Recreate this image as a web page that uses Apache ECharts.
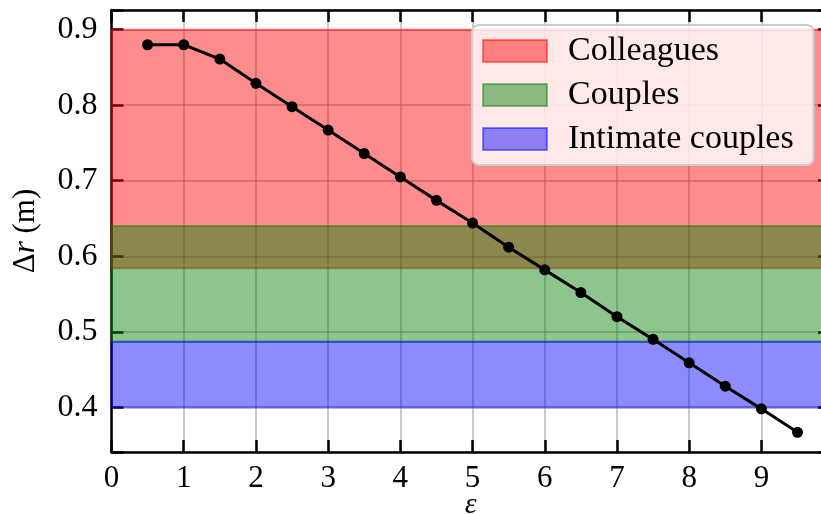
<!DOCTYPE html>
<html>
<head>
<meta charset="utf-8">
<script src="https://cdn.jsdelivr.net/npm/echarts@6/dist/echarts.min.js"></script>
<style>
html,body{margin:0;padding:0;background:#fff;}
#chart{width:821px;height:514px;}
</style>
</head>
<body>
<div id="chart"></div>
<script>
// ---- data ----
var epsValues = [0.5, 1, 1.5, 2, 2.5, 3, 3.5, 4, 4.5, 5, 5.5, 6, 6.5, 7, 7.5, 8, 8.5, 9, 9.5];
var deltaR = [0.880, 0.880, 0.861, 0.829, 0.798, 0.767, 0.736, 0.705, 0.674, 0.644, 0.612, 0.582, 0.552, 0.520, 0.490, 0.459, 0.428, 0.398, 0.367];
var bandNames = ['Colleagues', 'Couples', 'Intimate couples'];
var bandLow = [0.584, 0.487, 0.400];
var bandHigh = [0.900, 0.640, 0.487];
var xTicks = [0, 1, 2, 3, 4, 5, 6, 7, 8, 9];
var yTicks = [0.4, 0.5, 0.6, 0.7, 0.8, 0.9];

// ---- styles ----
var FONT = '"Liberation Serif", "DejaVu Serif", serif';
var fills = ['rgba(255,0,0,0.45)', 'rgba(0,128,0,0.45)', 'rgba(0,0,255,0.45)'];

var lineData = epsValues.map(function (x, i) { return [x, deltaR[i]]; });

function isTick(v, list) {
  for (var i = 0; i < list.length; i++) if (Math.abs(v - list[i]) < 1e-6) return true;
  return false;
}

var chart = echarts.init(document.getElementById('chart'), null, {renderer: 'canvas'});

var xBase = {
  type: 'value', min: 0, max: 9.95, interval: 1,
  axisLine: {show: true, onZero: false, lineStyle: {color: '#000', width: 2.5}},
  axisTick: {show: true, inside: true, length: 12, lineStyle: {color: '#000', width: 2.5}},
  splitLine: {show: false}
};
var yBase = {
  type: 'value', min: 0.3409, max: 0.926, minInterval: 0.1, maxInterval: 0.1,
  axisLine: {show: true, onZero: false, lineStyle: {color: '#000', width: 2.5}},
  axisTick: {show: true, inside: true, length: 12, lineStyle: {color: '#000', width: 2.5}},
  splitLine: {show: false}
};

var series = bandNames.map(function (name, i) {
  return {
    name: name,
    type: 'line',
    data: [],
    z: 1,
    markArea: {
      silent: true,
      itemStyle: {color: fills[i], borderColor: fills[i], borderWidth: 2},
      data: [[{yAxis: bandLow[i], xAxis: 0}, {yAxis: bandHigh[i], xAxis: 9.95}]]
    }
  };
});
series.push({
  name: 'data',
  type: 'line',
  data: lineData,
  z: 5,
  symbol: 'circle',
  symbolSize: 11,
  lineStyle: {color: '#000', width: 3},
  itemStyle: {color: '#000'},
  animation: false
});

var option = {
  animation: false,
  backgroundColor: '#fff',
  textStyle: {fontFamily: FONT},
  grid: {left: 111.5, top: 10, width: 718.5, height: 442, containLabel: false, outerBoundsMode: 'none'},
  legend: {
    orient: 'vertical',
    left: 472, top: 25,
    padding: [9, 20, 9, 10],
    itemWidth: 64, itemHeight: 22, itemGap: 10,
    backgroundColor: 'rgba(255,255,255,0.8)',
    borderColor: '#cccccc', borderWidth: 2, borderRadius: 7,
    textStyle: {fontFamily: FONT, fontSize: 34, color: '#000', padding: [0, 0, 0, 16]},
    data: bandNames.map(function (n, i) {
      return {name: n, icon: 'rect', itemStyle: {color: fills[i], borderColor: fills[i], borderWidth: 2}};
    })
  },
  xAxis: [
    Object.assign({}, xBase, {
      position: 'bottom',
      name: 'ε', nameLocation: 'middle', nameGap: 38, nameMoveOverlap: false,
      nameTextStyle: {fontFamily: FONT, fontStyle: 'italic', fontSize: 30, color: '#000'},
      axisLabel: {show: true, margin: 11, fontFamily: FONT, fontSize: 31, color: '#000',
        formatter: function (v) { return isTick(v, xTicks) ? String(v) : ''; }},
      splitLine: {show: true, lineStyle: {color: 'rgba(150,150,150,0.5)', width: 2}}
    }),
    Object.assign({}, xBase, {
      position: 'top',
      axisLabel: {show: false}
    })
  ],
  yAxis: [
    Object.assign({}, yBase, {
      position: 'left',
      name: '{d|Δ}{r|r} (m)', nameLocation: 'middle', nameGap: 70, nameRotate: 90, nameMoveOverlap: false,
      nameTextStyle: {fontFamily: FONT, fontSize: 31, color: '#000',
        rich: {d: {fontFamily: FONT, fontSize: 31, color: '#000'},
               r: {fontFamily: FONT, fontSize: 31, fontStyle: 'italic', color: '#000'}}},
      axisLabel: {show: true, margin: 14, fontFamily: FONT, fontSize: 32, color: '#000',
        formatter: function (v) { return isTick(v, yTicks) ? v.toFixed(1) : ''; }},
      splitLine: {show: true, lineStyle: {color: 'rgba(150,150,150,0.5)', width: 2}}
    }),
    Object.assign({}, yBase, {
      position: 'right',
      axisLabel: {show: false}
    })
  ],
  series: series
};
chart.setOption(option);
</script>
</body>
</html>
